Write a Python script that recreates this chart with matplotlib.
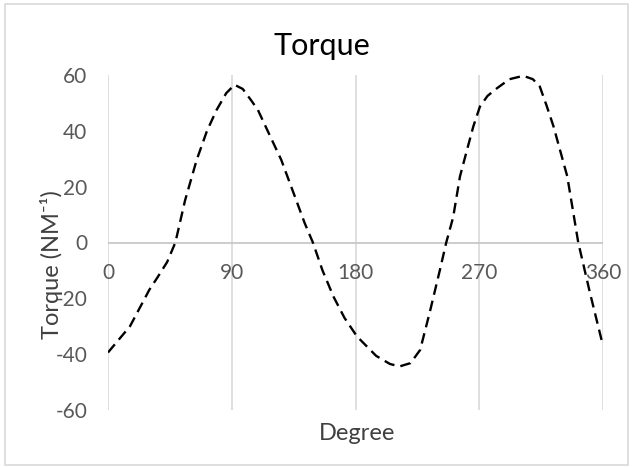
import matplotlib
matplotlib.use('Agg')
import matplotlib.pyplot as plt
from matplotlib.patches import Rectangle

degree = [0, 16, 30, 36, 43, 49, 56, 64.5, 72, 79, 86, 92, 98, 104, 109, 118,
          126, 137, 143, 149, 156, 164, 172, 181, 195, 205, 212, 220, 227,
          234, 241.5, 246, 251, 256, 261, 265.7, 270.5, 276, 283, 292, 302,
          309, 314, 319, 324, 334, 342, 350.5, 360]
torque = [-39.4, -30, -17, -12.5, -7, 0, 15, 29.6, 40, 47.5, 53.5, 56.5, 55,
          51, 47.5, 38, 29.6, 15, 7, 0, -10, -19.4, -27, -33.6, -40.6, -43.5,
          -44.4, -43.2, -38.5, -25, -9.6, 0, 9, 23.7, 33, 41.6, 48.7, 52.5,
          55.3, 58.5, 59.7, 58.5, 55.9, 49, 41.6, 23.7, 0, -18, -37]
xticks = [0, 90, 180, 270, 360]
yticks = [-60, -40, -20, 0, 20, 40, 60]

plt.rcParams['font.family'] = ['Lato', 'DejaVu Sans']
plt.rcParams['axes.unicode_minus'] = False

fig = plt.figure(figsize=(6.34, 4.67), dpi=100)
ax = fig.add_axes([108 / 634, 1 - 410 / 467, 495 / 634, 335 / 467])

ax.plot(degree, torque, color='black', lw=1.7, ls=(0, (4.5, 2.6)), zorder=3)

ax.set_xlim(0, 360)
ax.set_ylim(-60, 60)
ax.set_xticks(xticks)
ax.set_yticks(yticks)
ax.grid(axis='x', color='#d9d9d9', lw=1.2)
ax.axhline(0, color='#c8c8c8', lw=1.3, zorder=2)
for s in ['top', 'right', 'left']:
    ax.spines[s].set_visible(False)
ax.spines['bottom'].set_position(('data', 0))
ax.spines['bottom'].set_visible(False)
ax.tick_params(length=0, labelsize=15, colors='#595959')
ax.tick_params(axis='x', pad=15)
ax.tick_params(axis='y', pad=15)

fig.text(322 / 634, 1 - 46 / 467, 'Torque', ha='center', va='center',
         fontsize=22, color='black')
fig.text(357 / 634, 1 - 433 / 467, 'Degree', ha='center', va='center',
         fontsize=17, color='#404040')
fig.text(52 / 634, 1 - 265 / 467, 'Torque (NM⁻¹)', ha='center', va='center',
         rotation=90, fontsize=17, color='#404040')

fig.patches.append(Rectangle((5 / 634, 2 / 467), 623 / 634, 461 / 467,
                             transform=fig.transFigure, fill=False,
                             edgecolor='#d9d9d9', lw=1.2))

fig.savefig('out.png', dpi=100)
